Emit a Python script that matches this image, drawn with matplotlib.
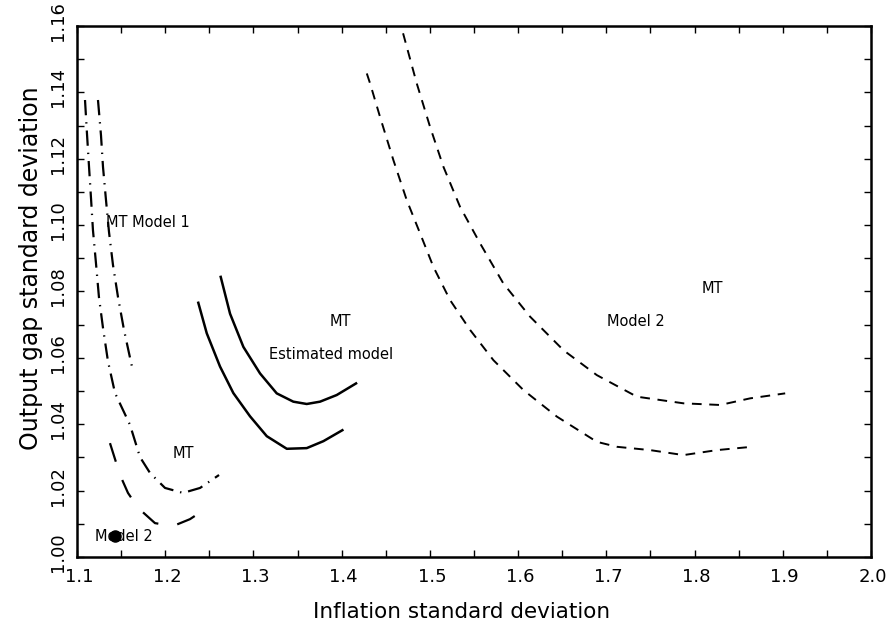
import numpy as np
import matplotlib.pyplot as plt
from matplotlib.ticker import MultipleLocator
import matplotlib.transforms as mtransforms

plt.rcParams['lines.scale_dashes'] = False

# Model 1, MT frontier (dash-dot)
m1_mt_x = [1.1091, 1.1113, 1.1136, 1.1159, 1.1181, 1.1215, 1.1249, 1.1295, 1.1351,
           1.1431, 1.1601, 1.1714, 1.1828, 1.1998, 1.2202, 1.2395, 1.2610]
m1_mt_y = [1.1377, 1.1277, 1.1178, 1.1081, 1.0985, 1.0886, 1.0783, 1.0690, 1.0590,
           1.0494, 1.0398, 1.0301, 1.0253, 1.0208, 1.0193, 1.0208, 1.0247]
# Model 1, second frontier (dash-dot, upper part only)
m1_b_x = [1.1238, 1.1272, 1.1295, 1.1329, 1.1363, 1.1408, 1.1465, 1.1533, 1.1612, 1.1635]
m1_b_y = [1.1377, 1.1271, 1.1175, 1.1075, 1.0979, 1.0880, 1.0783, 1.0684, 1.0587, 1.0560]
# Model 1, lower frontier (long dash)
m1_c_x = [1.1374, 1.1488, 1.1578, 1.1692, 1.1884, 1.2088, 1.2281, 1.2508]
m1_c_y = [1.0343, 1.0247, 1.0193, 1.0148, 1.0102, 1.0093, 1.0114, 1.0154]

# Estimated model (solid)
est_mt_x = [1.2629, 1.2735, 1.2886, 1.3075, 1.3264, 1.3452, 1.3604, 1.3755, 1.3944, 1.4163]
est_mt_y = [1.0844, 1.0733, 1.0633, 1.0553, 1.0493, 1.0468, 1.0461, 1.0468, 1.0488, 1.0523]
est_x = [1.2375, 1.2471, 1.2621, 1.2772, 1.2961, 1.3151, 1.3378, 1.3604, 1.3793, 1.4008]
est_y = [1.0766, 1.0674, 1.0574, 1.0494, 1.0424, 1.0364, 1.0326, 1.0328, 1.0349, 1.0382]

# Model 2 (dashed)
m2_mt_x = [1.4696, 1.4851, 1.5002, 1.5153, 1.5342, 1.5569, 1.5833, 1.6136, 1.6514,
           1.6892, 1.7346, 1.7874, 1.8290, 1.8630, 1.9027]
m2_mt_y = [1.1578, 1.1427, 1.1296, 1.1176, 1.1055, 1.0945, 1.0824, 1.0724, 1.0623,
           1.0548, 1.0483, 1.0463, 1.0458, 1.0478, 1.0493]
m2_x = [1.4285, 1.4322, 1.4435, 1.4586, 1.4738, 1.4889, 1.5040, 1.5229, 1.5456,
        1.5720, 1.6060, 1.6439, 1.6892, 1.7119, 1.7497, 1.7874, 1.8253, 1.8650]
m2_y = [1.1457, 1.1427, 1.1326, 1.1196, 1.1075, 1.0975, 1.0874, 1.0774, 1.0684,
        1.0593, 1.0503, 1.0423, 1.0347, 1.0332, 1.0322, 1.0307, 1.0322, 1.0332]

# single point
pt_x = [1.1431]
pt_y = [1.0063]

fig = plt.figure(figsize=(8.92, 6.28), dpi=100)
ax = fig.add_axes([0.0863, 0.1131, 0.8902, 0.8455])

dashdot = (0, (11, 5, 1, 5))
ax.plot(m1_mt_x, m1_mt_y, color='black', lw=1.6, linestyle=dashdot)
ax.plot(m1_b_x, m1_b_y, color='black', lw=1.6, linestyle=dashdot)
ax.plot(m1_c_x, m1_c_y, color='black', lw=1.6, linestyle=(0, (14, 14)))
ax.plot(est_mt_x, est_mt_y, color='black', lw=1.8)
ax.plot(est_x, est_y, color='black', lw=1.8)
ax.plot(m2_mt_x, m2_mt_y, color='black', lw=1.4, linestyle=(0, (7, 5.5)))
ax.plot(m2_x, m2_y, color='black', lw=1.4, linestyle=(0, (7, 5.5)))

fs = 10.5
ax.text(1.1329, 1.1009, 'MT Model 1', fontsize=fs, va='center', ha='left')
ax.text(1.2202, 1.0313, 'MT', fontsize=fs, va='center', ha='center')
ax.text(1.3982, 1.0711, 'MT', fontsize=fs, va='center', ha='center')
ax.text(1.3880, 1.0611, 'Estimated model', fontsize=fs, va='center', ha='center')
ax.text(1.7338, 1.0711, 'Model 2', fontsize=fs, va='center', ha='center')
ax.text(1.8200, 1.0810, 'MT', fontsize=fs, va='center', ha='center')
ax.text(1.1204, 1.0063, 'Model 2', fontsize=fs, va='center', ha='left')
ax.plot(pt_x, pt_y, 'o', color='black', ms=8, zorder=5)

ax.set_xlim(1.1, 2.0)
ax.set_ylim(1.0, 1.16)
ax.xaxis.set_major_locator(MultipleLocator(0.1))
ax.xaxis.set_minor_locator(MultipleLocator(0.05))
ax.yaxis.set_major_locator(MultipleLocator(0.02))
ax.yaxis.set_minor_locator(MultipleLocator(0.01))
ax.xaxis.set_major_formatter(plt.FormatStrFormatter('%.1f'))
ax.yaxis.set_major_formatter(plt.FormatStrFormatter('%.2f'))
ax.tick_params(which='both', direction='in', top=True, right=True, length=5, width=1)
ax.tick_params(axis='x', which='major', pad=8, labelsize=13)
ax.tick_params(axis='y', which='major', pad=7, labelsize=13)
for s in ax.spines.values():
    s.set_linewidth(1.8)

fig.canvas.draw()
xlabs = ax.get_xticklabels()
xlabs[0].set_ha('left')
for lab in xlabs:
    lab.set_transform(lab.get_transform() + mtransforms.ScaledTranslation(2 / 100, 0, fig.dpi_scale_trans))
for lab in ax.get_yticklabels():
    lab.set_rotation(90)
    lab.set_va('center')
    lab.set_transform(lab.get_transform() + mtransforms.ScaledTranslation(0, 5 / 100, fig.dpi_scale_trans))

ax.set_xlabel('Inflation standard deviation', fontsize=15.5)
ax.set_ylabel('Output gap standard deviation', fontsize=17)
ax.xaxis.set_label_coords(0.484, -0.085)
ax.yaxis.set_label_coords(-0.043, 0.544)

fig.savefig('out.png', dpi=100)
